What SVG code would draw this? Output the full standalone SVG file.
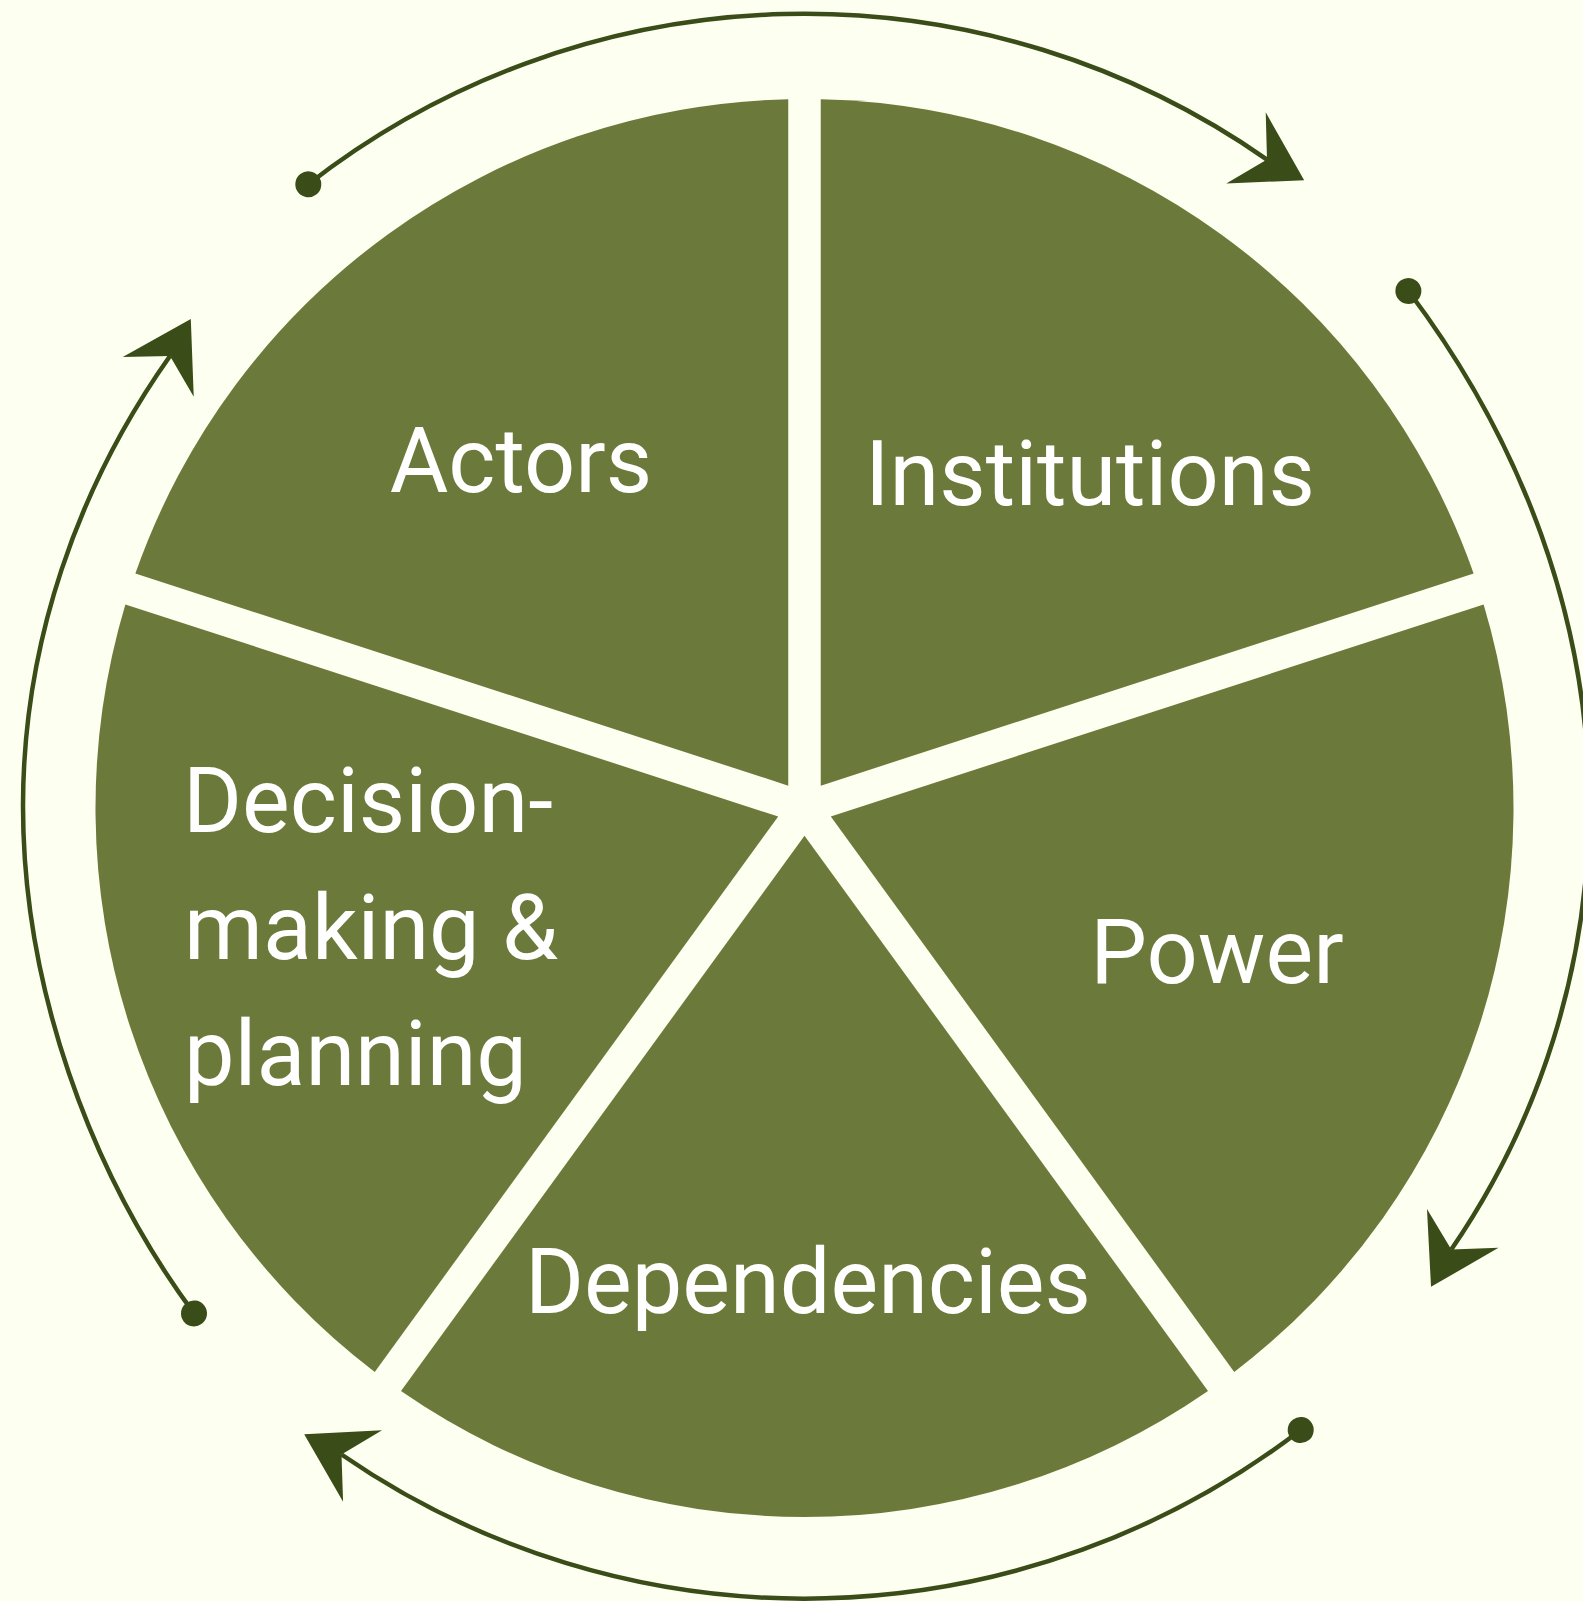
<svg xmlns="http://www.w3.org/2000/svg" width="1583" height="1601" viewBox="0 0 1583 1601">
  <style>
    .sector { fill: #6b7a3a; }
    .label { fill: #ffffff; font-family: Roboto, "Liberation Sans", sans-serif; font-size: 90px; }
    .arc { fill: none; stroke: #3a4d18; stroke-width: 4.5; marker-start: url(#dot); marker-end: url(#arrow); }
  </style>
  <defs>
    <marker id="arrow" markerUnits="userSpaceOnUse" viewBox="-50 -50 100 100" markerWidth="100" markerHeight="100" refX="0" refY="0" orient="auto" overflow="visible">
      <path d="M42.5,0 L-24,-40.7 L0,0 L-24,40.7 Z" fill="#3a4d18" transform="rotate(-6)"/>
    </marker>
    <marker id="dot" markerUnits="userSpaceOnUse" viewBox="-20 -20 40 40" markerWidth="40" markerHeight="40" refX="0" refY="0" orient="auto" overflow="visible">
      <circle cx="0" cy="0" r="13" fill="#3a4d18"/>
    </marker>
  </defs>
  <rect x="0" y="0" width="1583" height="1601" fill="#fdfff0"/>

  <g id="connectors">
    <path class="arc" d="M308.3,184.3 A807,807 0 0 1 1267.0,159.6"/>
    <path class="arc" d="M1408.4,291 C1521.4,441 1589,618.3 1589,806 C1589,964.3 1540.9,1119.1 1451.3,1249.5"/>
    <path class="arc" d="M1300.7,1430 A815,815 0 0 1 341.5,1454.5"/>
    <path class="arc" d="M194,1313.4 C88.1,1170.3 23,984 23,806 C23,644.4 76.6,487.9 170,356"/>
  </g>

  <g id="actors">
    <path class="sector" d="M788.25,785.64 L135.37,573.55 A709,709 0 0 1 788.25,99.19 Z"/>
    <text class="label" x="521" y="492" text-anchor="middle">Actors</text>
  </g>
  <g id="institutions">
    <path class="sector" d="M820.75,785.64 L820.75,99.19 A709,709 0 0 1 1473.63,573.55 Z"/>
    <text class="label" x="1090" y="505" text-anchor="middle">Institutions</text>
  </g>
  <g id="power">
    <path class="sector" d="M830.79,816.54 L1483.63,604.38 A709,709 0 0 1 1234.24,1371.92 Z"/>
    <text class="label" x="1217" y="983" text-anchor="middle">Power</text>
  </g>
  <g id="dependencies">
    <path class="sector" d="M804.5,835.64 L1208.0,1390.99 A709,709 0 0 1 401.0,1390.99 Z"/>
    <text class="label" x="808" y="1313" text-anchor="middle">Dependencies</text>
  </g>
  <g id="decision-making">
    <path class="sector" d="M778.21,816.54 L374.76,1371.92 A709,709 0 0 1 125.37,604.38 Z"/>
    <text class="label" x="183" y="832">Decision-</text>
    <text class="label" x="184" y="959">making &amp;</text>
    <text class="label" x="184" y="1085">planning</text>
  </g>
</svg>
